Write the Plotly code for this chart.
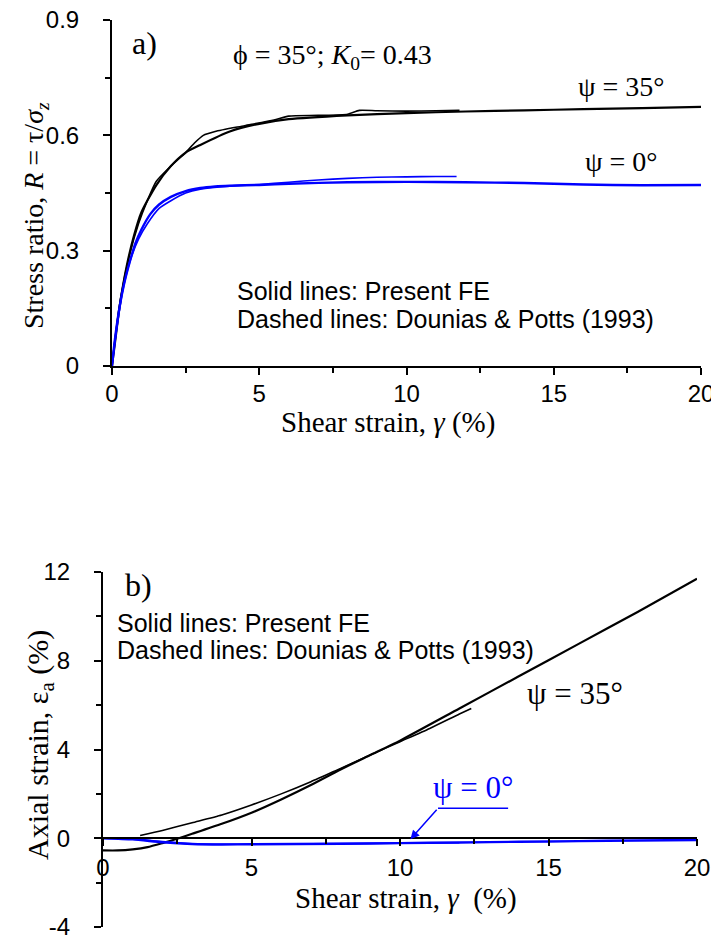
import plotly.graph_objects as go

# ---------------- data: panel a) stress ratio vs shear strain ----------------
gamma_a_fe35 = [0, 0.1, 0.25, 0.5, 0.75, 1.0, 1.5, 2.0, 2.5, 3.0, 4.0, 5.0, 6.0, 8.0, 10, 12, 14, 16, 18, 20]
R_a_fe35 = [0, 0.06, 0.15, 0.26, 0.34, 0.40, 0.47, 0.52, 0.555, 0.575, 0.61, 0.63, 0.642, 0.652, 0.658, 0.662, 0.665, 0.668, 0.671, 0.674]

gamma_a_dp35 = [0, 0.1, 0.3, 0.6, 0.9, 1.2, 1.5, 2.0, 2.5, 2.8, 3.1, 3.5, 4.5, 5.5, 6.0, 7.0, 8.0, 8.4, 9.0, 10, 11, 11.8]
R_a_dp35 = [0, 0.07, 0.18, 0.29, 0.37, 0.43, 0.48, 0.52, 0.555, 0.58, 0.60, 0.61, 0.625, 0.64, 0.65, 0.652, 0.655, 0.665, 0.664, 0.663, 0.664, 0.665]

gamma_a_fe0 = [0, 0.1, 0.25, 0.4, 0.6, 0.8, 1.0, 1.3, 1.6, 2.0, 2.5, 3.0, 3.5, 4, 5, 6, 8, 10, 12, 14, 16, 18, 20]
R_a_fe0 = [0, 0.07, 0.15, 0.21, 0.27, 0.32, 0.355, 0.395, 0.42, 0.44, 0.455, 0.463, 0.467, 0.469, 0.471, 0.474, 0.478, 0.479, 0.478, 0.476, 0.472, 0.470, 0.471]

gamma_a_dp0 = [0, 0.15, 0.35, 0.6, 0.9, 1.2, 1.6, 2.0, 2.5, 3.0, 4.0, 5.0, 6.0, 7.0, 8.0, 9.0, 10, 11, 11.7]
R_a_dp0 = [0, 0.09, 0.19, 0.27, 0.33, 0.37, 0.41, 0.43, 0.45, 0.46, 0.468, 0.472, 0.478, 0.484, 0.488, 0.491, 0.492, 0.493, 0.493]

# ---------------- data: panel b) axial strain vs shear strain ----------------
gamma_b_fe35 = [0, 0.5, 1.0, 1.5, 2.0, 2.5, 3, 4, 5, 6, 7, 8, 9, 10, 12, 14, 16, 18, 20]
ea_b_fe35 = [-0.55, -0.55, -0.5, -0.4, -0.22, -0.02, 0.2, 0.65, 1.15, 1.75, 2.4, 3.1, 3.75, 4.4, 5.85, 7.3, 8.75, 10.2, 11.7]

gamma_b_dp35 = [1.25, 2, 3, 4, 5, 6, 7, 8, 9, 10, 11, 12, 12.4]
ea_b_dp35 = [0.12, 0.35, 0.7, 1.05, 1.5, 2.0, 2.55, 3.15, 3.75, 4.35, 4.95, 5.6, 5.85]

gamma_b_fe0 = [0, 1, 2, 3, 4, 5, 8, 10, 12, 14, 16, 18, 20]
ea_b_fe0 = [0, -0.05, -0.18, -0.26, -0.28, -0.27, -0.25, -0.22, -0.19, -0.16, -0.13, -0.10, -0.08]

gamma_b_dp0 = [0, 1, 2, 3, 4, 6, 8, 10, 12]
ea_b_dp0 = [0.02, -0.02, -0.15, -0.25, -0.27, -0.26, -0.24, -0.22, -0.20]

# ticks
x_ticks = [0, 5, 10, 15, 20]
x_ticktext = ["0", "5", "10", "15", "20"]
x_minor = [2.5, 7.5, 12.5, 17.5]
ya_ticks = [0, 0.3, 0.6, 0.9]
ya_ticktext = ["0", "0.3", "0.6", "0.9"]
ya_minor = [0.15, 0.45, 0.75]
yb_ticks = [-4, 0, 4, 8, 12]
yb_ticktext = ["-4", "0", "4", "8", "12"]
yb_minor = [-2, 2, 6, 10]

BLACK = "#000000"
BLUE = "#0000ff"
SANS = "Liberation Sans, Arial, sans-serif"
SERIF = "Liberation Serif, Times New Roman, serif"

# the page body has an 8px margin; figure is offset by it
OFF = 8
FW = 711
FH = 936


def px(xp):
    return (xp - OFF) / FW


def py(yp):
    return (FH - (yp - OFF)) / FH


fig = go.Figure()


def add(x, y, color, width, xa, ya):
    fig.add_trace(go.Scatter(x=x, y=y, mode="lines",
                             line=dict(color=color, width=width, shape="spline", smoothing=0.6),
                             xaxis=xa, yaxis=ya, showlegend=False, hoverinfo="skip"))


add(gamma_a_dp35, R_a_dp35, BLACK, 1.6, "x", "y")
add(gamma_a_fe35, R_a_fe35, BLACK, 2.2, "x", "y")
add(gamma_a_dp0, R_a_dp0, BLUE, 1.6, "x", "y")
add(gamma_a_fe0, R_a_fe0, BLUE, 2.4, "x", "y")

add(gamma_b_dp35, ea_b_dp35, BLACK, 1.6, "x2", "y2")
add(gamma_b_fe35, ea_b_fe35, BLACK, 2.2, "x2", "y2")
add(gamma_b_dp0, ea_b_dp0, BLUE, 1.6, "x2", "y2")
add(gamma_b_fe0, ea_b_fe0, BLUE, 2.4, "x2", "y2")

xa_dom = [px(112), px(701)]
ya_dom = [py(366), py(20)]
xb_dom = [px(103), px(697)]
yb_dom = [py(927), py(572)]
yb_zero = yb_dom[0] + (0 - (-4)) / 16 * (yb_dom[1] - yb_dom[0])

axis_common = dict(showline=True, linecolor=BLACK, linewidth=2, ticks="outside", ticklen=7,
                   tickwidth=2, tickcolor=BLACK, showgrid=False, zeroline=False,
                   ticklabeloverflow="allow",
                   tickfont=dict(family=SANS, size=24, color=BLACK), automargin=False)
minor_common = dict(tickmode="array", ticks="outside", ticklen=5, tickwidth=2, tickcolor=BLACK)

fig.update_layout(
    width=FW, height=FH,
    margin=dict(l=0, r=0, t=0, b=0),
    paper_bgcolor="white", plot_bgcolor="white",
    xaxis=dict(domain=xa_dom, range=[0, 20], anchor="y", tickmode="array", tickvals=x_ticks,
               ticktext=x_ticktext, ticklabelstandoff=-2,
               minor=dict(tickvals=x_minor, **minor_common), **axis_common),
    yaxis=dict(domain=ya_dom, range=[0, 0.9], anchor="x", tickmode="array", tickvals=ya_ticks,
               ticktext=ya_ticktext, ticklabelstandoff=19,
               minor=dict(tickvals=ya_minor, **minor_common), **axis_common),
    xaxis2=dict(domain=xb_dom, range=[0, 20], anchor="free", position=yb_zero, tickmode="array",
                tickvals=x_ticks, ticktext=x_ticktext, ticklabelstandoff=1,
                minor=dict(tickvals=x_minor, **minor_common), **axis_common),
    yaxis2=dict(domain=yb_dom, range=[-4, 12], anchor="x2", tickmode="array", tickvals=yb_ticks,
                ticktext=yb_ticktext, ticklabelstandoff=19,
                minor=dict(tickvals=yb_minor, **minor_common), **axis_common),
)


def ann(text, x, y, size, xref="x", yref="y", color=BLACK, family=SERIF, xanchor="center",
        yanchor="middle", align="center", angle=0):
    fig.add_annotation(text=text, x=x, y=y, xref=xref, yref=yref, showarrow=False,
                       font=dict(family=family, size=size, color=color), xanchor=xanchor,
                       yanchor=yanchor, align=align, textangle=angle)


# axis titles (page pixel positions converted to paper coordinates)
ann("Stress ratio, <i>R</i> = τ/<i>σ</i><sub><i>z</i></sub>", px(35), py(216), 28,
    xref="paper", yref="paper", angle=-90)
ann("Shear strain, <i>γ</i> (%)", px(388), py(422), 29, xref="paper", yref="paper")
ann("Axial strain, ε<sub>a</sub> (%)", px(40), py(745), 30, xref="paper", yref="paper", angle=-90)
ann("Shear strain, <i>γ</i>  (%)", px(406), py(898), 29, xref="paper", yref="paper")

# panel a) labels
ann("a)", 1.12, 0.84, 32)
ann("ϕ = 35°; <i>K</i><sub>0</sub>= 0.43", 7.5, 0.804, 28)
ann("ψ = 35°", 17.3, 0.728, 28)
ann("ψ = 0°", 17.3, 0.531, 28)
ann("Solid lines: Present FE", 4.18, 0.195, 25, family=SANS, xanchor="left", align="left")
ann("Dashed lines: Dounias & Potts (1993)", 4.18, 0.122, 25, family=SANS, xanchor="left", align="left")

# panel b) labels
ann("b)", 1.21, 11.41, 32, xref="x2", yref="y2")
ann("Solid lines: Present FE", 0.40, 9.69, 25, xref="x2", yref="y2", family=SANS,
    xanchor="left", align="left")
ann("Dashed lines: Dounias & Potts (1993)", 0.40, 8.48, 25, xref="x2", yref="y2", family=SANS,
    xanchor="left", align="left")
ann("ψ = 35°", 15.9, 6.54, 31, xref="x2", yref="y2")
ann("ψ = 0°", 12.46, 2.3, 31, xref="x2", yref="y2", color=BLUE)

# underline and pointer for the blue label
fig.add_shape(type="line", x0=11.28, y0=1.35, x1=13.64, y1=1.35, xref="x2", yref="y2",
              line=dict(color=BLUE, width=1.5))
fig.add_annotation(text="", x=10.35, y=-0.05, ax=11.28, ay=1.35, xref="x2", yref="y2",
                   axref="x2", ayref="y2", showarrow=True, arrowhead=2, arrowsize=1.2,
                   arrowwidth=1.5, arrowcolor=BLUE)

fig.write_html("out.html")
